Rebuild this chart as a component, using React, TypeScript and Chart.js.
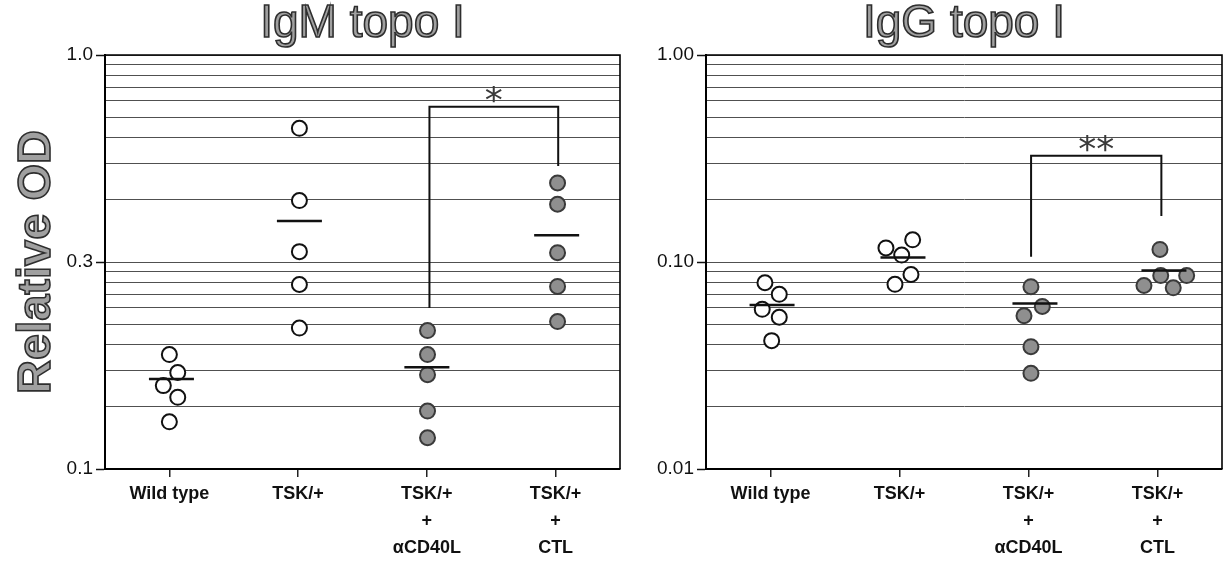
import React, { useEffect, useRef } from 'react';
import { Chart, registerables } from 'chart.js';

Chart.register(...registerables);

const FONT = '"Liberation Sans", Arial, Helvetica, sans-serif';

// Category labels (x axis)
const categories: string[][] = [['Wild type'], ['TSK/+'], ['TSK/+', '+', 'αCD40L'], ['TSK/+', '+', 'CTL']];

// ---- IgM topo I (left panel) ----
const igmWildType = [0.189, 0.171, 0.159, 0.149, 0.130];
const igmTsk = [0.665, 0.445, 0.335, 0.279, 0.219];
const igmCd40l = [0.216, 0.189, 0.169, 0.138, 0.119];
const igmCtl = [0.491, 0.436, 0.333, 0.276, 0.227];
const igmMeans = [0.165, 0.397, 0.176, 0.367];
const igmJitter = [
  [0, 0.065, -0.047, 0.065, 0],
  [0.01, 0.01, 0.01, 0.01, 0.01],
  [0.005, 0.005, 0.005, 0.005, 0.005],
  [0.015, 0.015, 0.015, 0.015, 0.015],
];
const igmMeanOffsets = [0.016, 0.01, 0, 0.008];
const igmBracketX = [2.02, 3.02];
const igmBracketY = [0.245, 0.75, 0.539];
const igmStar = '*';
const igmTickValues = [1, Math.sqrt(0.1), 0.1];
const igmTickText = ['1.0', '0.3', '0.1'];

// ---- IgG topo I (right panel) ----
const iggWildType = [0.0794, 0.0698, 0.0591, 0.0541, 0.0417];
const iggTsk = [0.117, 0.128, 0.108, 0.087, 0.078];
const iggCd40l = [0.076, 0.061, 0.055, 0.039, 0.029];
const iggCtl = [0.115, 0.086, 0.077, 0.086, 0.075];
const iggMeans = [0.062, 0.105, 0.063, 0.091];
const iggJitter = [
  [-0.043, 0.068, -0.064, 0.068, 0.009],
  [-0.105, 0.102, 0.017, 0.089, -0.035],
  [0.019, 0.107, -0.035, 0.019, 0.019],
  [0.019, 0.025, -0.105, 0.226, 0.122],
];
const iggMeanOffsets = [0.012, 0.027, 0.05, 0.05];
const iggBracketX = [2.02, 3.03];
const iggBracketY = [0.106, 0.326, 0.167];
const iggStar = '**';
const iggTickValues = [1, 0.1, 0.01];
const iggTickText = ['1.00', '0.10', '0.01'];

// graph-paper horizontal rules (two log cycles)
const paperRules = [1, 0.9, 0.8, 0.7, 0.6, 0.5, 0.4, 0.3, 0.2, 0.1, 0.09, 0.08, 0.07, 0.06, 0.05, 0.04, 0.03, 0.02, 0.01];

const OPEN = { bg: '#ffffff', border: '#111111' };
const FILLED = { bg: '#8f8f8f', border: '#3a3a3a' };
const groupStyles = [OPEN, OPEN, FILLED, FILLED];

type Spec = {
  title: string;
  yTitle: string | null;
  groups: number[][];
  jitter: number[][];
  means: number[];
  meanOffsets: number[];
  min: number;
  max: number;
  grid: number[];
  tickValues: number[];
  tickText: string[];
  bracketX: number[];
  bracketY: number[];
  star: string;
  axisWidth: number;
  rightPad: number;
};

const near = (a: number, b: number) => Math.abs(Math.log10(a) - Math.log10(b)) < 1e-6;

function drawCentered(ctx: CanvasRenderingContext2D, text: string, x: number, cy: number) {
  const m = ctx.measureText(text);
  const base = cy + (m.actualBoundingBoxAscent - m.actualBoundingBoxDescent) / 2;
  ctx.fillText(text, x, base);
}

const decorPlugin = {
  id: 'decor',
  beforeDatasetsDraw(chart: any) {
    const { ctx, chartArea } = chart;
    ctx.save();
    ctx.strokeStyle = '#000';
    ctx.lineWidth = 1.6;
    ctx.beginPath();
    ctx.moveTo(chartArea.left, chartArea.top);
    ctx.lineTo(chartArea.right, chartArea.top);
    ctx.lineTo(chartArea.right, chartArea.bottom);
    ctx.stroke();
    ctx.restore();
  },
  afterDraw(chart: any, _args: any, opts: any) {
    const { ctx, chartArea, scales } = chart;
    ctx.save();
    // panel title
    ctx.font = `46px ${FONT}`;
    ctx.textAlign = 'center';
    ctx.textBaseline = 'alphabetic';
    ctx.fillStyle = '#a0a0a0';
    ctx.strokeStyle = '#2e2e2e';
    ctx.lineWidth = 1.6;
    const cx = (chartArea.left + chartArea.right) / 2;
    ctx.fillText(opts.title, cx, 37);
    ctx.strokeText(opts.title, cx, 37);
    // y title
    if (opts.yTitle) {
      ctx.save();
      ctx.translate(50, (chartArea.top + chartArea.bottom) / 2);
      ctx.rotate(-Math.PI / 2);
      ctx.font = `bold 47px ${FONT}`;
      ctx.fillText(opts.yTitle, 0, 0);
      ctx.strokeText(opts.yTitle, 0, 0);
      ctx.restore();
    }
    // significance stars
    const sx = scales.x.getPixelForValue((opts.bracketX[0] + opts.bracketX[1]) / 2);
    const sy = scales.y.getPixelForValue(opts.bracketY[1]);
    ctx.font = `36px "DejaVu Sans", ${FONT}`;
    ctx.fillStyle = '#3a3a3a';
    drawCentered(ctx, opts.star, sx, sy - 12);
    ctx.restore();
  },
};

function buildConfig(s: Spec): any {
  const pointSets = s.groups.map((vals, gi) => ({
    label: categories[gi].join(' '),
    data: vals.map((v, i) => ({ x: gi + s.jitter[gi][i], y: v })),
    backgroundColor: groupStyles[gi].bg,
    borderColor: groupStyles[gi].border,
    borderWidth: 2,
    pointRadius: 7.5,
    order: 1,
  }));
  const meanSet = {
    label: 'mean',
    data: s.means.map((m, gi) => ({ x: gi + s.meanOffsets[gi], y: m })),
    pointStyle: 'line',
    pointRadius: 22.5,
    borderColor: '#111',
    backgroundColor: '#111',
    borderWidth: 2.5,
    order: 0,
  };
  const bracketSet = {
    label: 'bracket',
    data: [
      { x: s.bracketX[0], y: s.bracketY[0] },
      { x: s.bracketX[0], y: s.bracketY[1] },
      { x: s.bracketX[1], y: s.bracketY[1] },
      { x: s.bracketX[1], y: s.bracketY[2] },
    ],
    showLine: true,
    borderColor: '#111',
    borderWidth: 2,
    pointRadius: 0,
    fill: false,
    order: 2,
  };
  const labelFor = (v: number) => {
    for (let i = 0; i < s.tickValues.length; i++) if (near(v, s.tickValues[i])) return s.tickText[i];
    return '';
  };
  return {
    type: 'scatter',
    data: { datasets: [...pointSets, meanSet, bracketSet] },
    plugins: [decorPlugin],
    options: {
      animation: false,
      responsive: false,
      events: [],
      layout: { autoPadding: false, padding: { left: 0, right: s.rightPad, top: 55, bottom: 0 } },
      plugins: {
        legend: { display: false },
        tooltip: { enabled: false },
        title: { display: false },
        decor: { title: s.title, yTitle: s.yTitle, bracketX: s.bracketX, bracketY: s.bracketY, star: s.star },
      },
      scales: {
        x: {
          type: 'linear',
          min: -0.5,
          max: 3.5,
          afterBuildTicks: (a: any) => {
            a.ticks = categories.map((_, i) => ({ value: i }));
          },
          afterFit: (a: any) => {
            a.height = 96;
            a.paddingLeft = 0;
            a.paddingRight = 0;
          },
          ticks: {
            autoSkip: false,
            maxRotation: 0,
            callback: (v: number) => categories[v] ?? '',
            font: { family: FONT, size: 18, weight: 'bold', lineHeight: 1.5 },
            color: '#111',
            padding: 4,
          },
          grid: { drawOnChartArea: false, tickLength: 8, color: '#222', lineWidth: 1.5 },
          border: { color: '#000', width: 2 },
        },
        y: {
          type: 'logarithmic',
          min: s.min,
          max: s.max,
          afterBuildTicks: (a: any) => {
            a.ticks = s.grid.map((v) => ({ value: v }));
          },
          afterFit: (a: any) => {
            a.width = s.axisWidth;
            a.paddingTop = 0;
            a.paddingBottom = 0;
          },
          ticks: {
            autoSkip: false,
            callback: (v: number) => labelFor(v),
            font: { family: FONT, size: 19 },
            color: '#111',
            padding: 3,
          },
          grid: {
            color: '#505050',
            lineWidth: 1,
            tickLength: 9,
            tickWidth: 1.5,
            tickColor: (ctx: any) => (ctx.tick && labelFor(ctx.tick.value) ? '#111' : 'rgba(0,0,0,0)'),
          },
          border: { color: '#000', width: 2 },
        },
      },
    },
  };
}

const igmSpec: Spec = {
  title: 'IgM topo I',
  yTitle: 'Relative OD',
  groups: [igmWildType, igmTsk, igmCd40l, igmCtl],
  jitter: igmJitter,
  means: igmMeans,
  meanOffsets: igmMeanOffsets,
  min: 0.1,
  max: 1,
  grid: paperRules.map((v) => Math.sqrt(v)),
  tickValues: igmTickValues,
  tickText: igmTickText,
  bracketX: igmBracketX,
  bracketY: igmBracketY,
  star: igmStar,
  axisWidth: 105,
  rightPad: 30,
};

const iggSpec: Spec = {
  title: 'IgG topo I',
  yTitle: null,
  groups: [iggWildType, iggTsk, iggCd40l, iggCtl],
  jitter: iggJitter,
  means: iggMeans,
  meanOffsets: iggMeanOffsets,
  min: 0.01,
  max: 1,
  grid: paperRules,
  tickValues: iggTickValues,
  tickText: iggTickText,
  bracketX: iggBracketX,
  bracketY: iggBracketY,
  star: iggStar,
  axisWidth: 56,
  rightPad: 4,
};

function Panel({ spec, width }: { spec: Spec; width: number }) {
  const ref = useRef<HTMLCanvasElement | null>(null);
  useEffect(() => {
    if (!ref.current) return;
    const chart = new Chart(ref.current, buildConfig(spec));
    return () => chart.destroy();
  }, [spec]);
  return <canvas ref={ref} width={width} height={565} style={{ display: 'block', width, height: 565 }} />;
}

export default function App() {
  useEffect(() => {
    document.body.style.margin = '0';
  }, []);
  return (
    <div style={{ display: 'flex', width: 1226, height: 565, background: '#fff' }}>
      <Panel spec={igmSpec} width={650} />
      <Panel spec={iggSpec} width={576} />
    </div>
  );
}
